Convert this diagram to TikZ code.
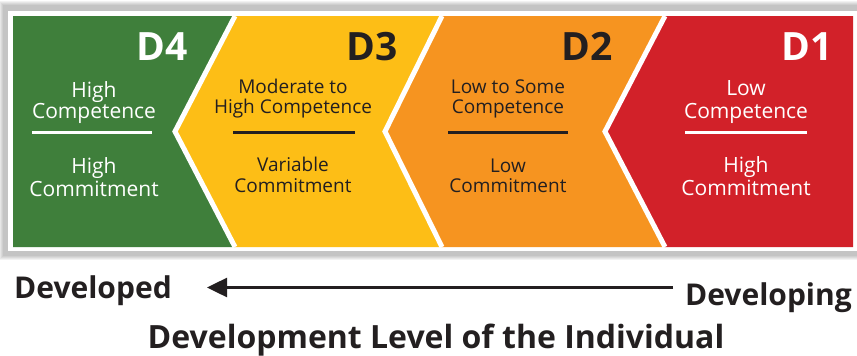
\documentclass[tikz,border=0pt]{standalone}
\usepackage{fontspec}
\setmainfont{Open Sans}
\usetikzlibrary{arrows.meta}
\definecolor{lvgreen}{RGB}{63,127,59}
\definecolor{lvyellow}{RGB}{253,190,22}
\definecolor{lvorange}{RGB}{246,148,32}
\definecolor{lvred}{RGB}{210,33,41}
\definecolor{lvdark}{RGB}{35,31,32}
\begin{document}
\begin{tikzpicture}[x=1pt,y=-1pt,
      lvtext/.style={anchor=base,inner sep=0pt,font=\fontsize{21}{22}\selectfont},
      lvsmall/.style={anchor=base,inner sep=0pt,lvdark,font=\fontsize{19}{20}\selectfont},
      lvtag/.style={anchor=base east,inner sep=0pt,font=\fontsize{39}{40}\selectfont\bfseries},
      levtext/.style={inner sep=0pt,lvdark,font=\fontsize{30}{31}\selectfont\bfseries},
      lvrule/.style={line width=3pt},
      sep/.style={white,line width=5pt,line join=miter},
      pfeil/.style={line width=2.5pt,lvdark,-{Triangle[length=20pt,width=19pt]}}]
    \useasboundingbox (0,0) rectangle (857,356);
    \foreach \i in {0,...,4}
      \fill[black,opacity=0.05] (3-\i,5-\i) rectangle (857,256+\i);
    \fill[white] (8,11) rectangle (857,251);
    \fill[lvgreen] (13,16) -- (235,16) -- (175,131.5) -- (235,247) -- (13,247) -- cycle;
    \fill[lvyellow] (235,16) -- (442,16) -- (385,131.5) -- (442,247) -- (235,247) -- (175,131.5) -- cycle;
    \fill[lvorange] (442,16) -- (665,16) -- (605,131.5) -- (665,247) -- (442,247) -- (385,131.5) -- cycle;
    \fill[lvred] (665,16) -- (853,16) -- (853,247) -- (665,247) -- (605,131.5) -- cycle;
    \draw[sep] (235,16) -- (175,131.5) -- (235,247);
    \draw[sep] (442,16) -- (385,131.5) -- (442,247);
    \draw[sep] (665,16) -- (605,131.5) -- (665,247);
    \node[lvtag,white] (d4) at (188,60) {D4};
    \node[lvtext,white] (d4a) at (94,97) {High};
    \node[lvtext,white] (d4b) at (94,118) {Competence};
    \draw[lvrule,white] (32,132) -- (152,132);
    \node[lvtext,white] (d4c) at (94,173) {High};
    \node[lvtext,white] (d4d) at (94,196) {Commitment};
    \node[lvtag,lvdark] (d3) at (398,60) {D3};
    \node[lvsmall] (d3a) at (293,93) {Moderate to};
    \node[lvsmall] (d3b) at (293,113) {High Competence};
    \draw[lvrule,lvdark] (233,132.5) -- (355,132.5);
    \node[lvsmall] (d3c) at (293,171) {Variable};
    \node[lvsmall] (d3d) at (293,192) {Commitment};
    \node[lvtag,lvdark] (d2) at (613,60) {D2};
    \node[lvsmall] (d2a) at (508,93) {Low to Some};
    \node[lvsmall] (d2b) at (508,113) {Competence};
    \draw[lvrule,lvdark] (448,132.5) -- (568,132.5);
    \node[lvsmall] (d2c) at (508,172) {Low};
    \node[lvsmall] (d2d) at (508,192) {Commitment};
    \node[lvtag,white] (d1) at (833,60) {D1};
    \node[lvtext,white] (d1a) at (746,95) {Low};
    \node[lvtext,white] (d1b) at (746,118) {Competence};
    \draw[lvrule,white] (685,132.5) -- (807,132.5);
    \node[lvtext,white] (d1c) at (746,172) {High};
    \node[lvtext,white] (d1d) at (746,195) {Commitment};
    \node[levtext,anchor=base west] (ed) at (14,298) {Developed};
    \node[levtext,anchor=base east] (ing) at (852,305) {Developing};
    \node[levtext,anchor=base,font=\fontsize{32}{33}\selectfont\bfseries] (lev) at (436,348) {Development Level of the Individual};
    \coordinate (astart) at (673,287.5);
    \coordinate (aend) at (207,287.5);
    \draw[pfeil] (astart) -- (aend);
  \end{tikzpicture}
\end{document}
